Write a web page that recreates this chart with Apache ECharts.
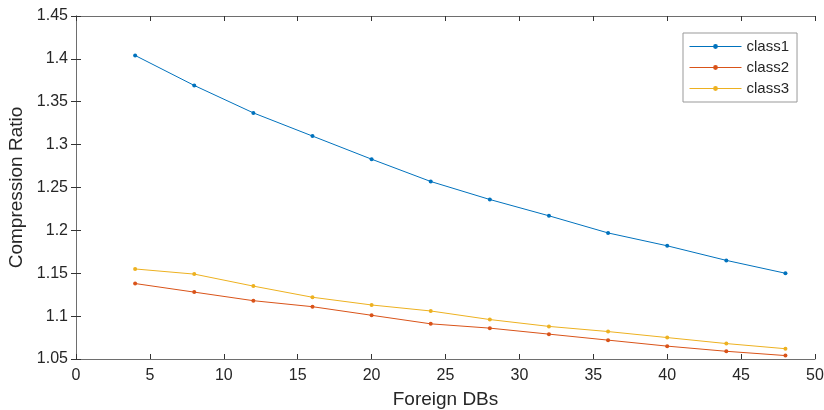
<!DOCTYPE html>
<html><head><meta charset="utf-8">
<script src="https://cdn.jsdelivr.net/npm/echarts@6/dist/echarts.min.js"></script>
<style>html,body{margin:0;padding:0;background:#fff}#c{width:824px;height:410px}</style>
</head><body><div id="c"></div>
<script>
const xValues = [4, 8, 12, 16, 20, 24, 28, 32, 36, 40, 44, 48];
const class1 = [1.404, 1.369, 1.337, 1.310, 1.283, 1.257, 1.236, 1.217, 1.197, 1.182, 1.165, 1.150];
const class2 = [1.138, 1.128, 1.118, 1.111, 1.101, 1.091, 1.086, 1.079, 1.072, 1.065, 1.059, 1.054];
const class3 = [1.155, 1.149, 1.135, 1.122, 1.113, 1.106, 1.096, 1.088, 1.082, 1.075, 1.068, 1.062];
const seriesNames = ['class1', 'class2', 'class3'];
const colors = ['#0072BD', '#D95319', '#EDB120'];

const font = 'Helvetica, "Liberation Sans", Arial, sans-serif';
const txt = '#262626';
const axisCol = '#6e6e6e';

function pairs(ys) { return xValues.map((x, i) => [x, ys[i]]); }

const chart = echarts.init(document.getElementById('c'), null, {renderer: 'canvas'});
const common = {
  axisLine: {show: true, lineStyle: {color: axisCol, width: 1}},
  axisTick: {show: true, inside: true, length: 5, lineStyle: {color: '#333', width: 1}},
  splitLine: {show: false}
};
chart.setOption({
  animation: false,
  color: colors,
  grid: {left: 76, right: 9, top: 16, bottom: 51, containLabel: false, outerBoundsMode: 'none'},
  xAxis: [
    Object.assign({type: 'value', min: 0, max: 50, interval: 5, position: 'bottom',
      name: 'Foreign DBs', nameLocation: 'middle', nameGap: 31,
      nameTextStyle: {fontSize: 19, color: txt, fontFamily: font},
      axisLabel: {fontSize: 16, color: txt, fontFamily: font, margin: 9}}, common),
    Object.assign({type: 'value', min: 0, max: 50, interval: 5, position: 'top',
      axisLabel: {show: false}}, common)
  ],
  yAxis: [
    Object.assign({type: 'value', min: 1.05, max: 1.45, interval: 0.05, position: 'left',
      name: 'Compression Ratio', nameLocation: 'middle', nameGap: 47,
      nameTextStyle: {fontSize: 19, color: txt, fontFamily: font},
      axisLabel: {fontSize: 16, color: txt, fontFamily: font, margin: 8,
        formatter: v => String(parseFloat(v.toFixed(2)))}}, common),
    Object.assign({type: 'value', min: 1.05, max: 1.45, interval: 0.05, position: 'right',
      axisLabel: {show: false}}, common)
  ],
  legend: {
    orient: 'vertical', left: 683, top: 33,
    data: seriesNames,
    itemWidth: 52, itemHeight: 6, itemGap: 6,
    padding: [6, 8, 6, 6],
    lineStyle: {width: 1},
    borderColor: '#999', borderWidth: 1, backgroundColor: '#fff',
    textStyle: {fontSize: 15, color: txt, fontFamily: font}
  },
  series: [class1, class2, class3].map((d, i) => ({
    name: seriesNames[i], type: 'line', data: pairs(d),
    symbol: 'circle', symbolSize: 4, showSymbol: true,
    lineStyle: {width: 1, color: colors[i]},
    itemStyle: {color: colors[i]}
  }))
});
</script></body></html>
